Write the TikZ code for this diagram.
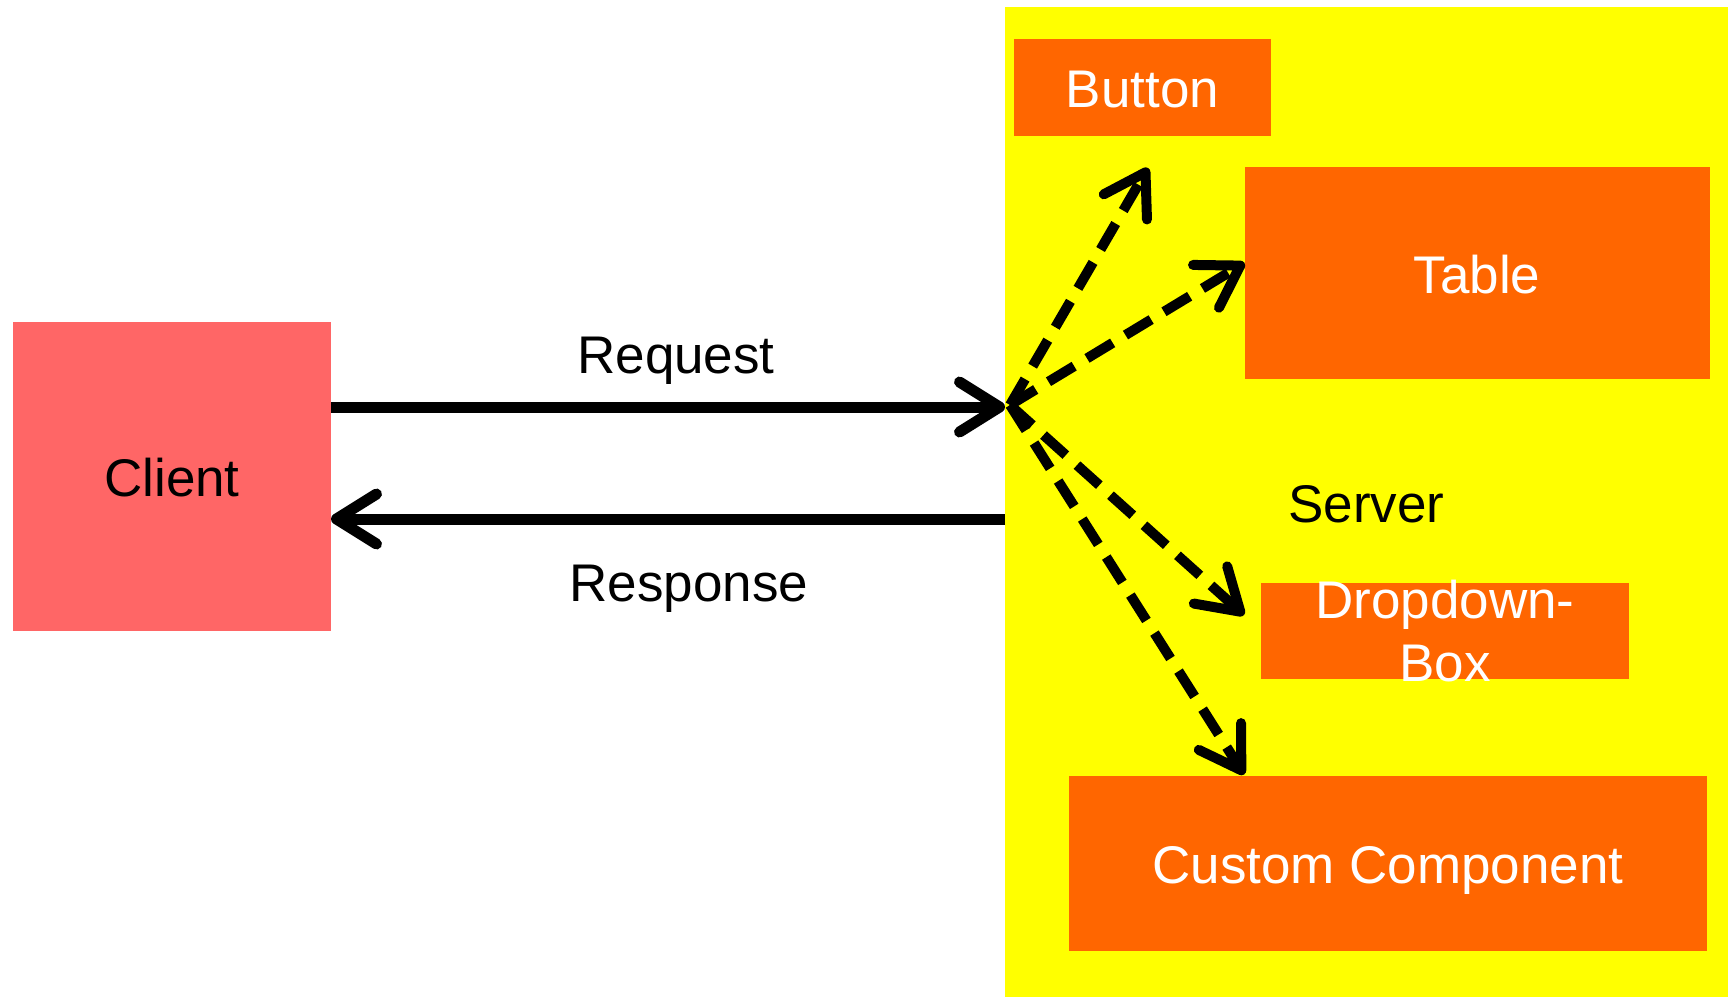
\documentclass[tikz,border=0pt]{standalone}
\usepackage{fontspec}
\setmainfont{Liberation Sans}
\usetikzlibrary{arrows.meta}
\definecolor{srvyellow}{HTML}{FFFF00}
\definecolor{cmporange}{HTML}{FF6600}
\definecolor{clientred}{HTML}{FF6666}
\begin{document}
\begin{tikzpicture}[x=1pt,y=-1pt,
  box/.style={rectangle, inner sep=0pt, outer sep=0pt, draw=none, text height=40pt, text depth=0pt},
  cmp/.style={box, fill=cmporange, text=white},
  lbl/.style={inner sep=0pt, outer sep=0pt, text=black},
  mainarrow/.style={line width=11pt, -{Straight Barb[length=40pt,width=50pt,round]}},
  dasharrow/.style={line width=10pt, dash pattern=on 30pt off 15pt, -{Straight Barb[length=40pt,width=50pt,round]}},
  font=\fontsize{53}{63}\selectfont]
\useasboundingbox (0,0) rectangle (1728,997);
\fill[white] (0,0) rectangle (1728,997);
\node[box, fill=srvyellow, minimum width=723pt, minimum height=990pt] (server) at (1366.5,502) {Server};
\node[box, fill=clientred, minimum width=318pt, minimum height=309pt] (client) at (172,476.5) {Client};
\node[cmp, minimum width=257pt, minimum height=97pt] (button) at (1142.5,87.5) {Button};
\node[cmp, minimum width=465pt, minimum height=212pt] (table) at (1477,273) {Table};
\node[cmp, minimum width=368pt, minimum height=96pt] (dropdown) at (1445,631) {};
\node[lbl, text=white, align=center] (dropdowntext) at (dropdown.center) {Dropdown-\\Box};
\node[cmp, minimum width=638pt, minimum height=175pt] (custom) at (1388,863.5) {Custom Component};
\node[lbl, anchor=base] (reqlabel) at (676,373) {Request};
\node[lbl, anchor=base] (resplabel) at (689,601) {Response};
\draw[mainarrow] ([yshift=69.5pt]client.east) -- ([yshift=95pt]server.west);
\draw[mainarrow] ([yshift=-17pt]server.west) -- ([yshift=-42.5pt]client.east);
\coordinate (hub) at (1010,405);
\draw[dasharrow] (hub) -- ([xshift=5.5pt,yshift=-32pt]button.south);
\draw[dasharrow] (hub) -- ([yshift=10pt]table.west);
\draw[dasharrow] (hub) -- ([xshift=-17pt,yshift=16pt]dropdown.west);
\draw[dasharrow] (hub) -- ([xshift=175pt,yshift=1.5pt]custom.north west);
\end{tikzpicture}
\end{document}
